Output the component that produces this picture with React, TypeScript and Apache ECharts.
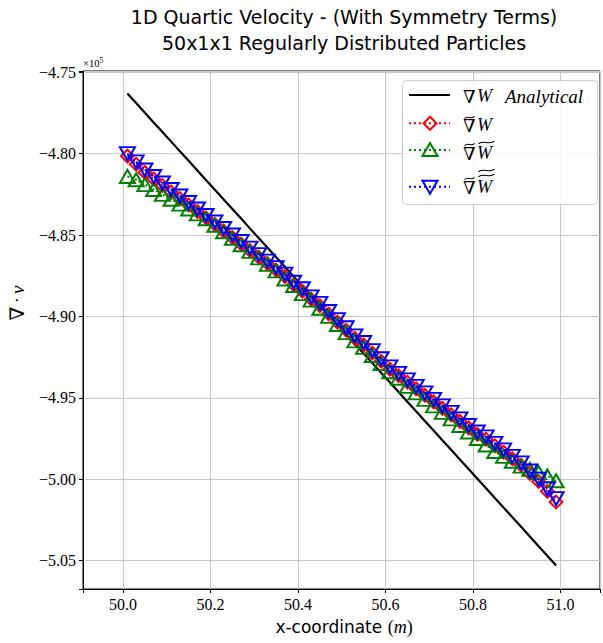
import React, { useEffect, useRef } from "react";
import * as echarts from "echarts";

const xCoords = [
  50.01, 50.03, 50.05, 50.07, 50.09, 50.11, 50.13, 50.15, 50.17, 50.19,
  50.21, 50.23, 50.25, 50.27, 50.29, 50.31, 50.33, 50.35, 50.37, 50.39,
  50.41, 50.43, 50.45, 50.47, 50.49, 50.51, 50.53, 50.55, 50.57, 50.59,
  50.61, 50.63, 50.65, 50.67, 50.69, 50.71, 50.73, 50.75, 50.77, 50.79,
  50.81, 50.83, 50.85, 50.87, 50.89, 50.91, 50.93, 50.95, 50.97, 50.99,
];

// values in units of 1e5
const analytical = [
  -4.763, -4.7689, -4.7748, -4.7808, -4.7867, -4.7926, -4.7985, -4.8044, -4.8103, -4.8163,
  -4.8222, -4.8281, -4.834, -4.8399, -4.8459, -4.8518, -4.8577, -4.8636, -4.8695, -4.8754,
  -4.8814, -4.8873, -4.8932, -4.8991, -4.905, -4.911, -4.9169, -4.9228, -4.9287, -4.9346,
  -4.9405, -4.9465, -4.9524, -4.9583, -4.9642, -4.9701, -4.9761, -4.982, -4.9879, -4.9938,
  -4.9997, -5.0056, -5.0116, -5.0175, -5.0234, -5.0293, -5.0352, -5.0412, -5.0471, -5.053,
];

const gradW = [
  -4.8015, -4.8065, -4.8115, -4.8155, -4.8195, -4.8235, -4.8275, -4.8315, -4.8355, -4.8395,
  -4.8435, -4.8475, -4.8515, -4.8555, -4.8595, -4.8635, -4.8675, -4.8715, -4.8755, -4.8805,
  -4.8845, -4.8895, -4.8935, -4.8985, -4.9035, -4.9085, -4.9135, -4.9175, -4.9225, -4.9275,
  -4.9325, -4.9365, -4.9405, -4.9445, -4.9485, -4.9525, -4.9565, -4.9605, -4.9645, -4.9685,
  -4.9725, -4.9755, -4.9795, -4.9835, -4.9875, -4.9915, -4.9965, -5.0015, -5.0075, -5.014,
];

const gradWTilde = [
  -4.814, -4.816, -4.819, -4.822, -4.825, -4.828, -4.831, -4.834, -4.837, -4.84,
  -4.844, -4.848, -4.852, -4.856, -4.86, -4.864, -4.868, -4.872, -4.877, -4.881,
  -4.886, -4.89, -4.895, -4.9, -4.905, -4.91, -4.915, -4.919, -4.924, -4.929,
  -4.934, -4.938, -4.943, -4.947, -4.951, -4.955, -4.959, -4.963, -4.967, -4.971,
  -4.975, -4.979, -4.983, -4.986, -4.989, -4.992, -4.994, -4.996, -4.998, -5.001,
];

const gradWTilde2 = [
  -4.8, -4.805, -4.81, -4.814, -4.818, -4.822, -4.826, -4.83, -4.834, -4.838,
  -4.842, -4.846, -4.85, -4.854, -4.858, -4.862, -4.866, -4.87, -4.874, -4.879,
  -4.883, -4.888, -4.892, -4.897, -4.902, -4.907, -4.912, -4.916, -4.921, -4.926,
  -4.931, -4.935, -4.939, -4.943, -4.947, -4.951, -4.955, -4.959, -4.963, -4.967,
  -4.971, -4.974, -4.978, -4.982, -4.986, -4.99, -4.995, -5.0, -5.006, -5.012,
];

const titleLines = [
  "1D Quartic Velocity - (With Symmetry Terms)",
  "50x1x1 Regularly Distributed Particles",
];

const pairs = (ys: number[]) => xCoords.map((x, i) => [x, ys[i]]);

const SERIF = "Liberation Serif";
const SANS = "DejaVu Sans";

function tilde(x: number, y: number, w: number) {
  return {
    type: "bezierCurve",
    z: 101,
    shape: {
      x1: x, y1: y + 1.2,
      cpx1: x + w * 0.35, cpy1: y - 2.6,
      cpx2: x + w * 0.65, cpy2: y + 2.6,
      x2: x + w, y2: y - 1.2,
    },
    style: { stroke: "#000", lineWidth: 1.1, fill: "none" },
  };
}

function txt(x: number, y: number, text: string, font: string, align = "left") {
  return {
    type: "text",
    x, y, z: 101,
    style: { text, font, fill: "#000", align, verticalAlign: "middle" },
  };
}

export default function App() {
  const ref = useRef<HTMLDivElement>(null);

  useEffect(() => {
    if (!ref.current) return;
    const chart = echarts.init(ref.current, null, { renderer: "svg" });

    const isMultiple = (v: number, step: number) =>
      Math.abs(v / step - Math.round(v / step)) < 1e-6;

    const legendX1 = 409, legendX2 = 450, mx = 430;
    const r1 = 95, r2 = 123.3, r3 = 150, r4 = 186.7;

    const graphic: any[] = [
      txt(344, 17, titleLines[0], `19px ${SANS}`, "center"),
      txt(344, 43, titleLines[1], `19px ${SANS}`, "center"),
      {
        type: "text", x: 83, y: 63, z: 101,
        style: {
          text: "{a|×10}{b|5}",
          verticalAlign: "middle",
          rich: {
            a: { fontFamily: SERIF, fontSize: 10.5, fill: "#000" },
            b: { fontFamily: SERIF, fontSize: 7.5, fill: "#000", verticalAlign: "top", padding: [0, 0, 5, 0] },
          },
        },
      },
      {
        type: "text", x: 17, y: 303, z: 101, rotation: Math.PI / 2,
        style: {
          text: "{n|∇} {d|·} {v|v}",
          align: "center",
          verticalAlign: "middle",
          rich: {
            n: { fontFamily: "DejaVu Serif", fontSize: 20, fill: "#000" },
            d: { fontFamily: SERIF, fontSize: 18, fill: "#000" },
            v: { fontFamily: SERIF, fontStyle: "italic", fontSize: 19, fill: "#000" },
          },
        },
      },
      {
        type: "text", x: 344, y: 627, z: 101,
        style: {
          text: "{s|x-coordinate\u00a0}{m|(}{i|m}{m|)}",
          align: "center",
          verticalAlign: "middle",
          rich: {
            s: { fontFamily: SANS, fontSize: 17, fill: "#000" },
            m: { fontFamily: SERIF, fontSize: 18, fill: "#000" },
            i: { fontFamily: SERIF, fontStyle: "italic", fontSize: 18, fill: "#000" },
          },
        },
      },
      // legend box
      {
        type: "rect", z: 100,
        shape: { x: 402.5, y: 80.5, width: 195, height: 124, r: 4 },
        style: { fill: "rgba(255,255,255,0.85)", stroke: "#cccccc", lineWidth: 1 },
      },
      // row 1
      {
        type: "line", z: 101,
        shape: { x1: legendX1, y1: r1, x2: legendX2, y2: r1 },
        style: { stroke: "#000", lineWidth: 2.2 },
      },
      txt(463, 96, "∇", `18px DejaVu Serif`),
      txt(477, 96, "W", `italic 18px ${SERIF}`),
      txt(505, 96, "Analytical", `italic 19px ${SERIF}`),
      // row 2
      {
        type: "line", z: 101,
        shape: { x1: legendX1, y1: r2, x2: legendX2, y2: r2 },
        style: { stroke: "red", lineWidth: 2, lineDash: [2, 3] },
      },
      {
        type: "polygon", z: 102,
        shape: { points: [[mx, r2 - 6.5], [mx + 6.5, r2], [mx, r2 + 6.5], [mx - 6.5, r2]] },
        style: { stroke: "red", lineWidth: 2, fill: "none" },
      },
      txt(463, 125, "∇", `18px DejaVu Serif`),
      tilde(464.5, 117.5, 10),
      txt(477, 125, "W", `italic 18px ${SERIF}`),
      // row 3
      {
        type: "line", z: 101,
        shape: { x1: legendX1, y1: r3, x2: legendX2, y2: r3 },
        style: { stroke: "green", lineWidth: 2, lineDash: [2, 3] },
      },
      {
        type: "polygon", z: 102,
        shape: { points: [[mx, r3 - 7], [mx + 7.5, r3 + 6], [mx - 7.5, r3 + 6]] },
        style: { stroke: "green", lineWidth: 2, fill: "none" },
      },
      txt(463, 153, "∇", `18px DejaVu Serif`),
      tilde(464.5, 144.5, 10),
      txt(477, 153, "W", `italic 18px ${SERIF}`),
      tilde(478.5, 142.5, 16),
      // row 4
      {
        type: "line", z: 101,
        shape: { x1: legendX1, y1: r4, x2: legendX2, y2: r4 },
        style: { stroke: "blue", lineWidth: 2, lineDash: [2, 3] },
      },
      {
        type: "polygon", z: 102,
        shape: { points: [[mx - 7.5, r4 - 6], [mx + 7.5, r4 - 6], [mx, r4 + 7]] },
        style: { stroke: "blue", lineWidth: 2, fill: "none" },
      },
      txt(463, 187, "∇", `18px DejaVu Serif`),
      tilde(464.5, 178.5, 10),
      txt(477, 187, "W", `italic 18px ${SERIF}`),
      tilde(478.5, 175.5, 16),
      tilde(478.5, 170.5, 16),
    ];

    const option: any = {
      animation: false,
      backgroundColor: "#fff",
      grid: {
        left: 83, top: 71, right: -3, bottom: 54,
        show: true, borderColor: "#000", borderWidth: 1,
        backgroundColor: "transparent", containLabel: false,
      },
      xAxis: {
        type: "value",
        min: 49.9085, max: 51.0904,
        minInterval: 0.2, maxInterval: 0.2,
        axisLine: { show: true, onZero: false, lineStyle: { color: "#000", width: 1 } },
        axisTick: { show: true, length: 4, lineStyle: { color: "#000" } },
        axisLabel: {
          color: "#000", fontFamily: SERIF, fontSize: 16, margin: 7,
          formatter: (v: number) => (isMultiple(v, 0.2) ? v.toFixed(1) : ""),
        },
        splitLine: { show: true, lineStyle: { color: "#c8c8c8", width: 1 } },
      },
      yAxis: {
        type: "value",
        min: -5.0675, max: -4.7492,
        minInterval: 0.05, maxInterval: 0.05,
        axisLine: { show: true, onZero: false, lineStyle: { color: "#000", width: 1 } },
        axisTick: { show: true, length: 4, lineStyle: { color: "#000" } },
        axisLabel: {
          color: "#000", fontFamily: SERIF, fontSize: 16, margin: 7,
          formatter: (v: number) =>
            isMultiple(v, 0.05) ? v.toFixed(2).replace("-", "\u2212") : "",
        },
        splitLine: { show: true, lineStyle: { color: "#c8c8c8", width: 1 } },
      },
      graphic,
      series: [
        {
          name: "Analytical",
          type: "line",
          data: pairs(analytical),
          showSymbol: false,
          symbol: "none",
          lineStyle: { color: "#000", width: 2.2 },
          itemStyle: { color: "#000" },
          z: 2,
        },
        {
          name: "gradW",
          type: "line",
          data: pairs(gradW),
          symbol: "rect",
          symbolSize: 9,
          symbolRotate: 45,
          lineStyle: { color: "red", width: 2, type: "dotted" },
          itemStyle: { color: "rgba(0,0,0,0)", borderColor: "red", borderWidth: 2 },
          z: 3,
        },
        {
          name: "gradWTilde",
          type: "line",
          data: pairs(gradWTilde),
          symbol: "triangle",
          symbolSize: [15, 13],
          lineStyle: { color: "green", width: 2, type: "dotted" },
          itemStyle: { color: "rgba(0,0,0,0)", borderColor: "green", borderWidth: 2 },
          z: 4,
        },
        {
          name: "gradWTilde2",
          type: "line",
          data: pairs(gradWTilde2),
          symbol: "triangle",
          symbolSize: [15, 13],
          symbolRotate: 180,
          lineStyle: { color: "blue", width: 2, type: "dotted" },
          itemStyle: { color: "rgba(0,0,0,0)", borderColor: "blue", borderWidth: 2 },
          z: 5,
        },
      ],
    };

    chart.setOption(option);
    return () => chart.dispose();
  }, []);

  return (
    <div
      ref={ref}
      style={{ position: "fixed", left: 0, top: 0, width: 603, height: 643 }}
    />
  );
}
